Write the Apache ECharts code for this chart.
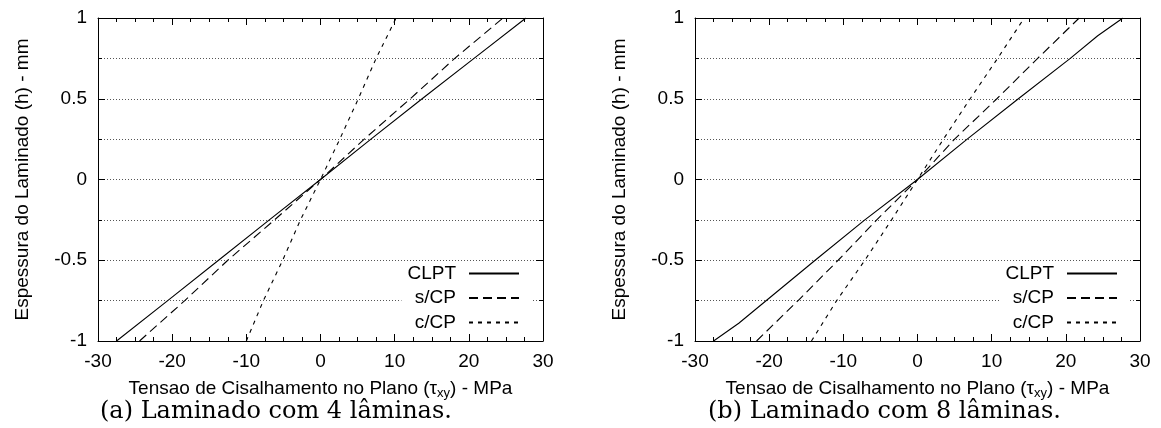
<!DOCTYPE html>
<html><head><meta charset="utf-8">
<script src="https://cdn.jsdelivr.net/npm/echarts@6/dist/echarts.min.js"></script>
<style>html,body{margin:0;padding:0;background:#fff}#c{width:1161px;height:428px}</style>
</head><body><div id="c"></div>
<script>
// ---- data (tau in MPa, h in mm) ----
const seriesNames = ['CLPT', 's/CP', 'c/CP'];
// Panel (a): 4 laminae
const hA = [-1, -0.75, -0.5, -0.25, 0, 0.25, 0.5, 0.75, 1];
const clptA = [-27.5, -20.6, -13.75, -6.9, 0, 6.8, 13.7, 20.7, 27.7];
const scpA  = [-24.4, -18.3, -12.5, -6.2, 0, 5.9, 12.1, 18.1, 24.6];
const ccpA  = [-10.0, -7.7, -5.1, -2.7, 0, 2.6, 5.1, 7.5, 10.2];
// Panel (b): 8 laminae
const hClptB = [-1, -0.89, -0.5, -0.25, 0, 0.25, 0.5, 0.75, 0.89, 1];
const clptB  = [-27.5, -24.1, -13.8, -7.1, 0, 6.7, 13.6, 20.6, 24.3, 27.7];
const hB = [-1, -0.75, -0.5, -0.25, 0, 0.25, 0.5, 0.75, 1];
const scpB = [-21.7, -16.1, -10.7, -5.5, 0, 5.0, 10.7, 16.2, 21.8];
const ccpB = [-14.3, -10.9, -7.1, -3.5, 0, 3.5, 7.1, 10.8, 14.4];
const captions = ['(a) Laminado com 4 lâminas.', '(b) Laminado com 8 lâminas.'];
const xName = 'Tensao de Cisalhamento no Plano (τ{sub|xy}) - MPa';
const yName = 'Espessura do Laminado (h) - mm';

const FONT = 'Liberation Sans, Arial, sans-serif';
const pair = (xs, hs) => xs.map((x, i) => [x, hs[i]]);
const dashes = ['solid', [9, 5], [4, 5]];

const grids = [
  {left: 98, right: 618, top: 18, bottom: 87},
  {left: 695, right: 21, top: 18, bottom: 87}
];

const xAxes = [], yAxes = [];
grids.forEach((g, gi) => {
  const tick = {show: true, inside: true, length: 7, lineStyle: {color: '#000'}};
  const minor = {show: true, splitNumber: 4, length: 4, lineStyle: {color: '#000'}};
  xAxes.push({
    type: 'value', gridIndex: gi, position: 'bottom', min: -30, max: 30, interval: 10,
    axisLine: {show: true, onZero: false, lineStyle: {color: '#000', width: 1}},
    axisTick: tick, minorTick: minor, splitLine: {show: false},
    axisLabel: {color: '#000', fontFamily: FONT, fontSize: 19, margin: 11},
    name: xName, nameLocation: 'middle', nameGap: 37,
    nameTextStyle: {color: '#000', fontFamily: FONT, fontSize: 19,
      rich: {sub: {color: '#000', fontFamily: FONT, fontSize: 13, padding: [9, 0, 0, 0]}}}
  });
  xAxes.push({
    type: 'value', gridIndex: gi, position: 'top', min: -30, max: 30, interval: 10,
    axisLine: {show: true, onZero: false, lineStyle: {color: '#000', width: 1}},
    axisTick: tick, minorTick: minor, splitLine: {show: false}, axisLabel: {show: false}
  });
  const ytick = {show: true, inside: true, length: 7, lineStyle: {color: '#000'}};
  const yminor = {show: true, splitNumber: 2, length: 4, lineStyle: {color: '#000'}};
  const dotted = {show: true, lineStyle: {color: '#555', type: [1, 2], width: 1}};
  yAxes.push({
    type: 'value', gridIndex: gi, position: 'left', min: -1, max: 1, interval: 0.5,
    axisLine: {show: true, onZero: false, lineStyle: {color: '#000', width: 1}},
    axisTick: ytick, minorTick: yminor, splitLine: dotted, minorSplitLine: dotted,
    axisLabel: {color: '#000', fontFamily: FONT, fontSize: 19, margin: 11},
    name: yName, nameLocation: 'middle', nameGap: 66, nameRotate: 90,
    nameTextStyle: {color: '#000', fontFamily: FONT, fontSize: 19}
  });
  yAxes.push({
    type: 'value', gridIndex: gi, position: 'right', min: -1, max: 1, interval: 0.5,
    axisLine: {show: true, onZero: false, lineStyle: {color: '#000', width: 1}},
    axisTick: ytick, minorTick: yminor, splitLine: {show: false}, axisLabel: {show: false}
  });
});

function mk(name, data, gi, k) {
  return {
    name, type: 'line', xAxisIndex: gi * 2, yAxisIndex: gi * 2, data,
    symbol: 'none', smooth: false, silent: true,
    lineStyle: {color: '#000', width: 1.1, type: dashes[k]}, itemStyle: {color: '#000'}
  };
}
const series = [
  mk(seriesNames[0], pair(clptA, hA), 0, 0),
  mk(seriesNames[1], pair(scpA, hA), 0, 1),
  mk(seriesNames[2], pair(ccpA, hA), 0, 2),
  mk(seriesNames[0], pair(clptB, hClptB), 1, 0),
  mk(seriesNames[1], pair(scpB, hB), 1, 1),
  mk(seriesNames[2], pair(ccpB, hB), 1, 2)
];

const legendBase = {
  orient: 'vertical', align: 'right', top: 262, itemWidth: 50, itemHeight: 14, itemGap: 5.5,
  backgroundColor: '#fff', padding: [2, 12, 2, 6], selectedMode: false,
  itemStyle: {color: 'rgba(0,0,0,0)', borderColor: 'rgba(0,0,0,0)', borderWidth: 0, opacity: 0},
  textStyle: {color: '#000', fontFamily: FONT, fontSize: 19, padding: [0, 8, 0, 0]},
  data: seriesNames
};

const chart = echarts.init(document.getElementById('c'), null, {renderer: 'canvas'});
chart.setOption({
  animation: false,
  backgroundColor: '#fff',
  grid: grids,
  xAxis: xAxes,
  yAxis: yAxes,
  legend: [Object.assign({}, legendBase, {right: 629}), Object.assign({}, legendBase, {right: 31})],
  series,
  graphic: captions.map((t, i) => ({
    type: 'text', left: i === 0 ? 100 : 708, top: 400,
    style: {text: t, fill: '#000', font: '24px "DejaVu Serif", serif'}
  }))
});
</script></body></html>
